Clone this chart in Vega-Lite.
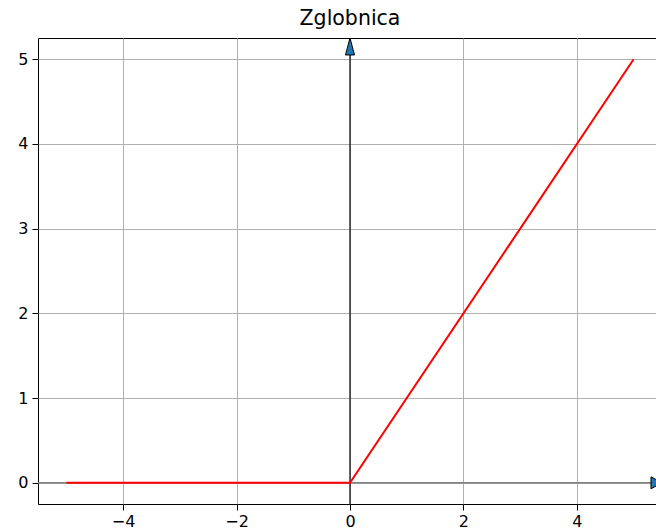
{
  "$schema": "https://vega.github.io/schema/vega-lite/v6.json",
  "autosize": {"type": "none"},
  "padding": {"left": 38, "top": 38, "right": 0, "bottom": 26},
  "width": 624,
  "height": 466,
  "title": {
    "text": "Zglobnica",
    "font": "DejaVu Sans",
    "fontSize": 20.5,
    "fontWeight": "normal",
    "color": "#000000",
    "anchor": "middle",
    "offset": 6
  },
  "config": {
    "view": {"stroke": "#000000", "strokeWidth": 1},
    "axis": {
      "domain": false,
      "grid": true,
      "gridColor": "#b0b0b0",
      "gridWidth": 1,
      "ticks": true,
      "tickColor": "#000000",
      "tickSize": 6,
      "tickWidth": 1,
      "labelFont": "DejaVu Sans",
      "labelFontSize": 16,
      "labelColor": "#000000",
      "labelPadding": 4,
      "title": null
    }
  },
  "datasets": {
    "relu": [
      {"x": -5, "y": 0},
      {"x": 0, "y": 0},
      {"x": 5, "y": 5}
    ],
    "arrows": [
      {"x": 0, "y": 5.15, "dir": "up"},
      {"x": 5.403, "y": 0, "dir": "right"}
    ]
  },
  "layer": [
    {
      "data": {"values": [{"y": 0}]},
      "mark": {"type": "rule", "color": "#808080", "strokeWidth": 1.5},
      "encoding": {
        "y": {
          "field": "y",
          "type": "quantitative",
          "scale": {"domain": [-0.25, 5.25], "nice": false, "zero": false},
          "axis": {"values": [0, 1, 2, 3, 4, 5], "format": "d"}
        }
      }
    },
    {
      "data": {"values": [{"x": 0}]},
      "mark": {"type": "rule", "color": "#000000", "strokeWidth": 1.2},
      "encoding": {
        "x": {
          "field": "x",
          "type": "quantitative",
          "scale": {"domain": [-5.5, 5.5], "nice": false, "zero": false},
          "axis": {"values": [-4, -2, 0, 2, 4], "format": "d", "labelPadding": 3}
        }
      }
    },
    {
      "data": {"name": "relu"},
      "mark": {"type": "line", "color": "#ff0000", "strokeWidth": 2},
      "encoding": {
        "x": {"field": "x", "type": "quantitative"},
        "y": {"field": "y", "type": "quantitative"}
      }
    },
    {
      "data": {"name": "arrows"},
      "transform": [{"filter": "datum.dir === 'up'"}],
      "mark": {
        "type": "point",
        "shape": "M0,-1L0.53,1L-0.53,1Z",
        "size": 289,
        "filled": true,
        "fill": "#1f77b4",
        "stroke": "#000000",
        "strokeWidth": 1,
        "opacity": 1
      },
      "encoding": {
        "x": {"field": "x", "type": "quantitative"},
        "y": {"field": "y", "type": "quantitative"}
      }
    },
    {
      "data": {"name": "arrows"},
      "transform": [{"filter": "datum.dir === 'right'"}],
      "mark": {
        "type": "point",
        "shape": "M1,0L-1,1.09L-1,-1.09Z",
        "size": 121,
        "filled": true,
        "fill": "#1f77b4",
        "stroke": "#000000",
        "strokeWidth": 1,
        "opacity": 1
      },
      "encoding": {
        "x": {"field": "x", "type": "quantitative"},
        "y": {"field": "y", "type": "quantitative"}
      }
    }
  ]
}
